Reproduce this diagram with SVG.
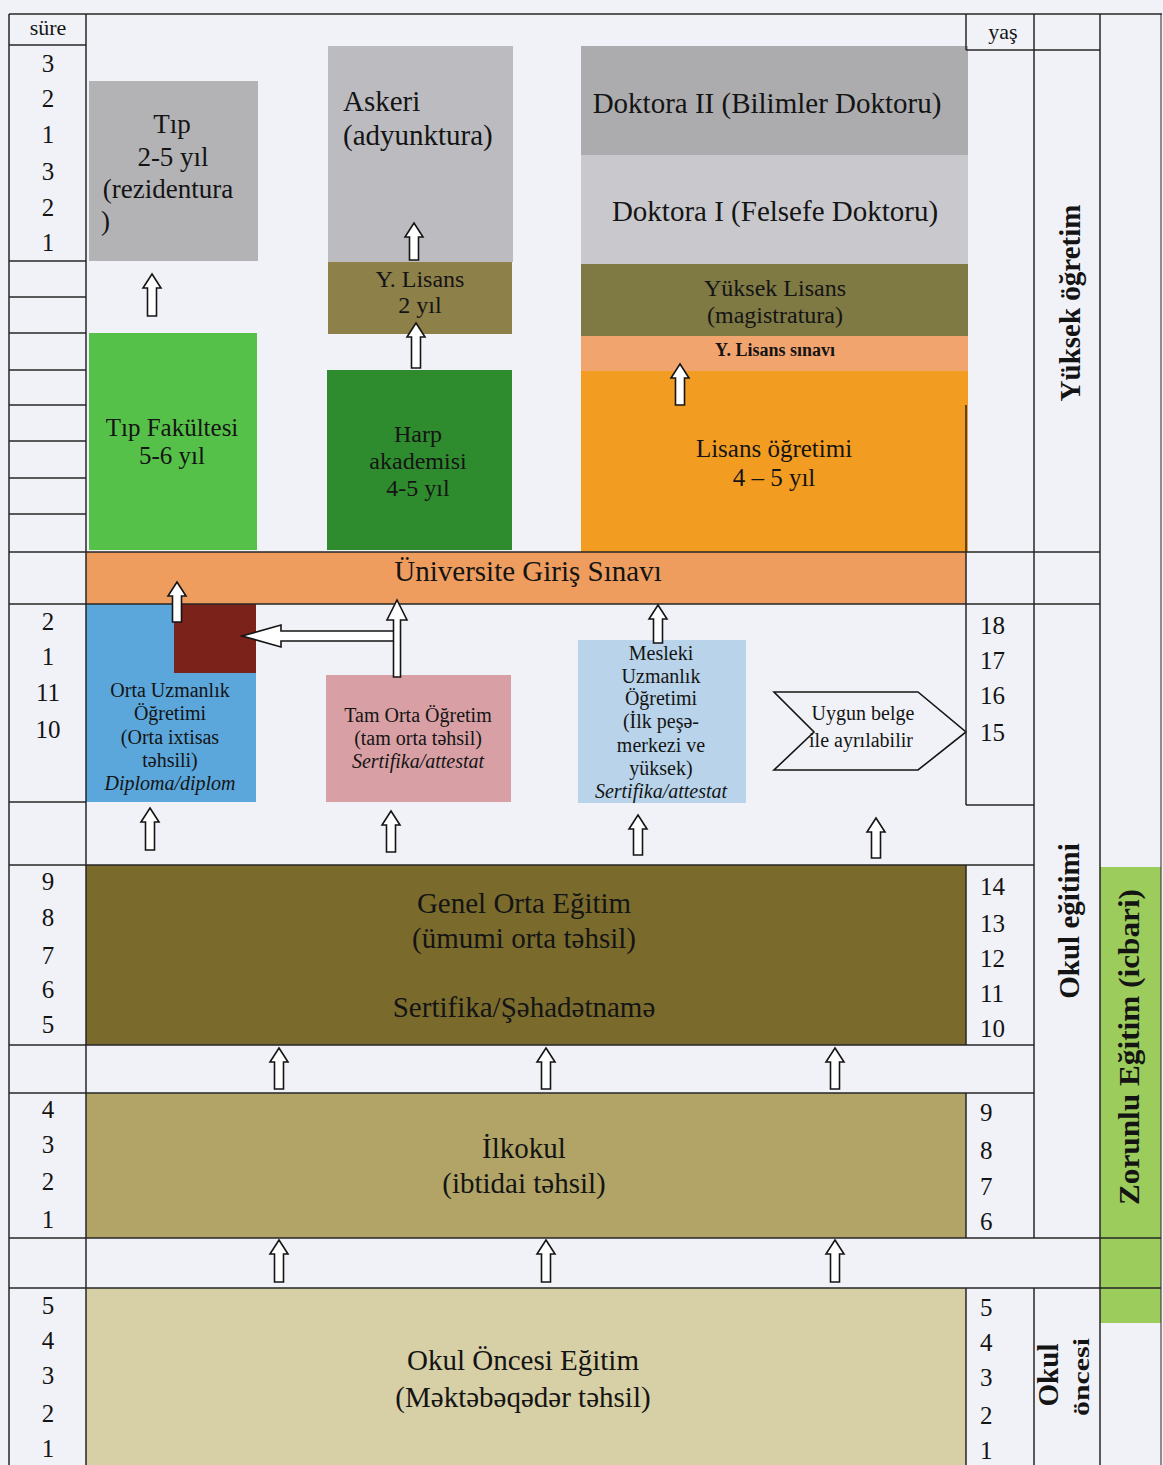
<svg xmlns="http://www.w3.org/2000/svg" width="1163" height="1465" viewBox="0 0 1163 1465">
<style>
.t{font-family:"Liberation Serif","Times New Roman",serif;fill:#141414}
.c{text-anchor:middle}
.b{font-weight:bold}
.i{font-style:italic}
.ln{stroke:#262626;stroke-width:1.5;fill:none}
.arr{fill:#ffffff;stroke:#151515;stroke-width:1.6;stroke-linejoin:miter}
.n{font-size:25px}
</style>
<rect x="0" y="0" width="1163" height="1465" fill="#f1f2f7"/>

<!-- colored boxes -->
<g id="tip-rezidentura">
<rect x="89" y="81" width="169" height="180" fill="#b3b3b6"/>
<text class="t c" font-size="27" x="172" y="133">Tıp</text>
<text class="t c" font-size="27" x="173" y="166">2-5 yıl</text>
<text class="t c" font-size="27" x="168" y="198">(rezidentura</text>
<text class="t" font-size="27" x="101" y="230">)</text>
</g>
<g id="askeri">
<rect x="328" y="46" width="185" height="216" fill="#bcbcc0"/>
<text class="t" font-size="29" x="343" y="111">Askeri</text>
<text class="t" font-size="29" x="343" y="145">(adyunktura)</text>
</g>
<g id="y-lisans-2">
<rect x="328" y="262" width="184" height="72" fill="#8e8049"/>
<text class="t c" font-size="24" x="420" y="287">Y. Lisans</text>
<text class="t c" font-size="24" x="420" y="313">2 yıl</text>
</g>
<g id="tip-fakultesi">
<rect x="89" y="333" width="168" height="217" fill="#56c149"/>
<text class="t c" font-size="25" x="172" y="436">Tıp Fakültesi</text>
<text class="t c" font-size="25" x="172" y="464">5-6 yıl</text>
</g>
<g id="harp-akademisi">
<rect x="327" y="370" width="185" height="180" fill="#2f8c2e"/>
<text class="t c" font-size="24" x="418" y="442">Harp</text>
<text class="t c" font-size="24" x="418" y="469">akademisi</text>
<text class="t c" font-size="24" x="418" y="496">4-5 yıl</text>
</g>
<g id="doktora-2">
<rect x="581" y="46" width="387" height="109" fill="#acacaf"/>
<text class="t c" font-size="29" x="767" y="113">Doktora II (Bilimler Doktoru)</text>
</g>
<g id="doktora-1">
<rect x="581" y="155" width="387" height="109" fill="#c9c9cd"/>
<text class="t c" font-size="29" x="775" y="221">Doktora I (Felsefe Doktoru)</text>
</g>
<g id="yuksek-lisans">
<rect x="581" y="264" width="387" height="72" fill="#7f7944"/>
<text class="t c" font-size="24" x="775" y="296">Yüksek Lisans</text>
<text class="t c" font-size="24" x="775" y="323">(magistratura)</text>
</g>
<g id="y-lisans-sinavi">
<rect x="581" y="336" width="387" height="35" fill="#f2a46f"/>
<text class="t c b" font-size="18" x="775" y="356">Y. Lisans sınavı</text>
</g>
<g id="lisans">
<rect x="581" y="371" width="387" height="181" fill="#f39c22"/>
<text class="t c" font-size="25" x="774" y="457">Lisans öğretimi</text>
<text class="t c" font-size="25" x="774" y="486">4 – 5 yıl</text>
</g>
<g id="universite-giris">
<rect x="86" y="552" width="880" height="52" fill="#ee9d5e"/>
<text class="t c" font-size="29" x="528" y="581">Üniversite Giriş Sınavı</text>
</g>
<g id="orta-uzmanlik">
<rect x="86" y="604" width="170" height="198" fill="#5ba7dc"/>
<rect x="174" y="604" width="82" height="69" fill="#7b221b"/>
<text class="t c" font-size="20" x="170" y="697">Orta Uzmanlık</text>
<text class="t c" font-size="20" x="170" y="720">Öğretimi</text>
<text class="t c" font-size="20" x="170" y="744">(Orta ixtisas</text>
<text class="t c" font-size="20" x="170" y="767">təhsili)</text>
<text class="t c i" font-size="20" x="170" y="790">Diploma/diplom</text>
</g>
<g id="tam-orta">
<rect x="326" y="675" width="185" height="127" fill="#d8a0a5"/>
<text class="t c" font-size="20" x="418" y="722">Tam Orta Öğretim</text>
<text class="t c" font-size="20" x="418" y="745">(tam orta təhsil)</text>
<text class="t c i" font-size="20" x="418" y="768">Sertifika/attestat</text>
</g>
<g id="mesleki">
<rect x="578" y="640" width="168" height="163" fill="#b9d4ea"/>
<text class="t c" font-size="20" x="661" y="660">Mesleki</text>
<text class="t c" font-size="20" x="661" y="683">Uzmanlık</text>
<text class="t c" font-size="20" x="661" y="705">Öğretimi</text>
<text class="t c" font-size="20" x="661" y="728">(İlk peşə-</text>
<text class="t c" font-size="20" x="661" y="752">merkezi ve</text>
<text class="t c" font-size="20" x="661" y="775">yüksek)</text>
<text class="t c i" font-size="20" x="661" y="798">Sertifika/attestat</text>
</g>
<g id="uygun-belge">
<polygon points="774,692 918,692 966,732 918,770 774,770 814,732" fill="#f1f2f7" stroke="#151515" stroke-width="1.6"/>
<text class="t c" font-size="20" x="863" y="720">Uygun belge</text>
<text class="t c" font-size="20" x="861" y="747">ile ayrılabilir</text>
</g>
<g id="genel-orta">
<rect x="86" y="865" width="880" height="180" fill="#7a6b2d"/>
<text class="t c" font-size="29" x="524" y="913">Genel Orta Eğitim</text>
<text class="t c" font-size="29" x="524" y="948">(ümumi orta təhsil)</text>
<text class="t c" font-size="29" x="524" y="1017">Sertifika/Şəhadətnamə</text>
</g>
<g id="ilkokul">
<rect x="86" y="1093" width="880" height="145" fill="#b2a466"/>
<text class="t c" font-size="29" x="524" y="1158">İlkokul</text>
<text class="t c" font-size="29" x="524" y="1193">(ibtidai təhsil)</text>
</g>
<g id="okul-oncesi">
<rect x="86" y="1288" width="880" height="177" fill="#d7cfa5"/>
<text class="t c" font-size="29" x="523" y="1370">Okul Öncesi Eğitim</text>
<text class="t c" font-size="29" x="523" y="1407">(Məktəbəqədər təhsil)</text>
</g>
<g id="zorunlu">
<rect x="1100" y="867" width="61" height="456" fill="#9ccc5c"/>
<text class="t c b" font-size="29" textLength="316" lengthAdjust="spacingAndGlyphs" transform="translate(1139,1047) rotate(-90)" x="0" y="0">Zorunlu Eğitim (icbari)</text>
</g>

<!-- grid -->
<g id="grid" class="ln">
<line x1="9" y1="14" x2="1162" y2="14"/>
<line x1="9" y1="14" x2="9" y2="1465"/>
<line x1="86" y1="14" x2="86" y2="1465"/>
<line x1="966" y1="14" x2="966" y2="50"/>
<line x1="966" y1="405" x2="966" y2="805"/>
<line x1="966" y1="865" x2="966" y2="1045"/>
<line x1="966" y1="1093" x2="966" y2="1238"/>
<line x1="966" y1="1288" x2="966" y2="1465"/>
<line x1="1034" y1="14" x2="1034" y2="1238"/>
<line x1="1034" y1="1288" x2="1034" y2="1465"/>
<line x1="1100" y1="14" x2="1100" y2="1465"/>
<line x1="1161" y1="14" x2="1161" y2="1465" stroke-width="1"/>
<line x1="9" y1="45" x2="86" y2="45"/>
<line x1="966" y1="50" x2="1100" y2="50"/>
<line x1="9" y1="261" x2="86" y2="261"/>
<line x1="9" y1="297" x2="86" y2="297"/>
<line x1="9" y1="333" x2="86" y2="333"/>
<line x1="9" y1="370" x2="86" y2="370"/>
<line x1="9" y1="405" x2="86" y2="405"/>
<line x1="9" y1="441" x2="86" y2="441"/>
<line x1="9" y1="478" x2="86" y2="478"/>
<line x1="9" y1="514" x2="86" y2="514"/>
<line x1="9" y1="552" x2="1100" y2="552"/>
<line x1="9" y1="604" x2="1100" y2="604"/>
<line x1="9" y1="802" x2="86" y2="802"/>
<line x1="966" y1="805" x2="1034" y2="805"/>
<line x1="9" y1="865" x2="1034" y2="865"/>
<line x1="9" y1="1045" x2="1034" y2="1045"/>
<line x1="9" y1="1093" x2="1034" y2="1093"/>
<line x1="9" y1="1238" x2="1161" y2="1238"/>
<line x1="9" y1="1288" x2="1161" y2="1288"/>
</g>

<!-- column labels -->
<g id="sure-col">
<text class="t c" font-size="22" x="48" y="35">süre</text>
<text class="t c n" x="48" y="72">3</text>
<text class="t c n" x="48" y="107">2</text>
<text class="t c n" x="48" y="143">1</text>
<text class="t c n" x="48" y="180">3</text>
<text class="t c n" x="48" y="216">2</text>
<text class="t c n" x="48" y="251">1</text>
<text class="t c n" x="48" y="630">2</text>
<text class="t c n" x="48" y="665">1</text>
<text class="t c n" x="48" y="701">11</text>
<text class="t c n" x="48" y="738">10</text>
<text class="t c n" x="48" y="890">9</text>
<text class="t c n" x="48" y="926">8</text>
<text class="t c n" x="48" y="964">7</text>
<text class="t c n" x="48" y="998">6</text>
<text class="t c n" x="48" y="1033">5</text>
<text class="t c n" x="48" y="1118">4</text>
<text class="t c n" x="48" y="1153">3</text>
<text class="t c n" x="48" y="1190">2</text>
<text class="t c n" x="48" y="1228">1</text>
<text class="t c n" x="48" y="1314">5</text>
<text class="t c n" x="48" y="1349">4</text>
<text class="t c n" x="48" y="1384">3</text>
<text class="t c n" x="48" y="1422">2</text>
<text class="t c n" x="48" y="1457">1</text>
</g>
<g id="yas-col">
<text class="t c" font-size="22" x="1003" y="39">yaş</text>
<text class="t n" x="980" y="634">18</text>
<text class="t n" x="980" y="669">17</text>
<text class="t n" x="980" y="704">16</text>
<text class="t n" x="980" y="741">15</text>
<text class="t n" x="980" y="895">14</text>
<text class="t n" x="980" y="932">13</text>
<text class="t n" x="980" y="967">12</text>
<text class="t n" x="980" y="1002">11</text>
<text class="t n" x="980" y="1037">10</text>
<text class="t n" x="980" y="1121">9</text>
<text class="t n" x="980" y="1159">8</text>
<text class="t n" x="980" y="1195">7</text>
<text class="t n" x="980" y="1230">6</text>
<text class="t n" x="980" y="1316">5</text>
<text class="t n" x="980" y="1351">4</text>
<text class="t n" x="980" y="1386">3</text>
<text class="t n" x="980" y="1424">2</text>
<text class="t n" x="980" y="1459">1</text>
</g>
<g id="level-labels">
<text class="t c b" font-size="29" transform="translate(1080,303) rotate(-90)">Yüksek öğretim</text>
<text class="t c b" font-size="29" transform="translate(1079,921) rotate(-90)">Okul eğitimi</text>
<text class="t c b" font-size="29" transform="translate(1058,1375) rotate(-90)">Okul</text>
<text class="t c b" font-size="24" textLength="78" lengthAdjust="spacingAndGlyphs" transform="translate(1089,1377) rotate(-90)">öncesi</text>
</g>

<!-- connectors -->
<g id="connectors">
<path class="arr" d="M242 636 L281 625 L281 631 L396 631 L396 641 L281 641 L281 647 Z"/>
<path class="arr" d="M397 600 L407 620 L400.5 620 L400.5 677 L393.5 677 L393.5 620 L387 620 Z"/>
<path class="arr" d="M152 274 L161 288 L156.5 288 L156.5 316 L147.5 316 L147.5 288 L143 288 Z"/>
<path class="arr" d="M414 223 L423 237 L418.5 237 L418.5 260 L409.5 260 L409.5 237 L405 237 Z"/>
<path class="arr" d="M416 323 L425 337 L420.5 337 L420.5 368 L411.5 368 L411.5 337 L407 337 Z"/>
<path class="arr" d="M680 364 L689 378 L684.5 378 L684.5 405 L675.5 405 L675.5 378 L671 378 Z"/>
<path class="arr" d="M177 582 L186 596 L181.5 596 L181.5 622 L172.5 622 L172.5 596 L168 596 Z"/>
<path class="arr" d="M658 605 L667 619 L662.5 619 L662.5 643 L653.5 643 L653.5 619 L649 619 Z"/>
<path class="arr" d="M150 808 L159 822 L154.5 822 L154.5 850 L145.5 850 L145.5 822 L141 822 Z"/>
<path class="arr" d="M391 811 L400 825 L395.5 825 L395.5 852 L386.5 852 L386.5 825 L382 825 Z"/>
<path class="arr" d="M638 815 L647 829 L642.5 829 L642.5 855 L633.5 855 L633.5 829 L629 829 Z"/>
<path class="arr" d="M876 818 L885 832 L880.5 832 L880.5 858 L871.5 858 L871.5 832 L867 832 Z"/>
<path class="arr" d="M279 1048 L288 1062 L283.5 1062 L283.5 1089 L274.5 1089 L274.5 1062 L270 1062 Z"/>
<path class="arr" d="M546 1048 L555 1062 L550.5 1062 L550.5 1089 L541.5 1089 L541.5 1062 L537 1062 Z"/>
<path class="arr" d="M835 1048 L844 1062 L839.5 1062 L839.5 1089 L830.5 1089 L830.5 1062 L826 1062 Z"/>
<path class="arr" d="M279 1240 L288 1254 L283.5 1254 L283.5 1282 L274.5 1282 L274.5 1254 L270 1254 Z"/>
<path class="arr" d="M546 1240 L555 1254 L550.5 1254 L550.5 1282 L541.5 1282 L541.5 1254 L537 1254 Z"/>
<path class="arr" d="M835 1240 L844 1254 L839.5 1254 L839.5 1282 L830.5 1282 L830.5 1254 L826 1254 Z"/>
</g>
</svg>
